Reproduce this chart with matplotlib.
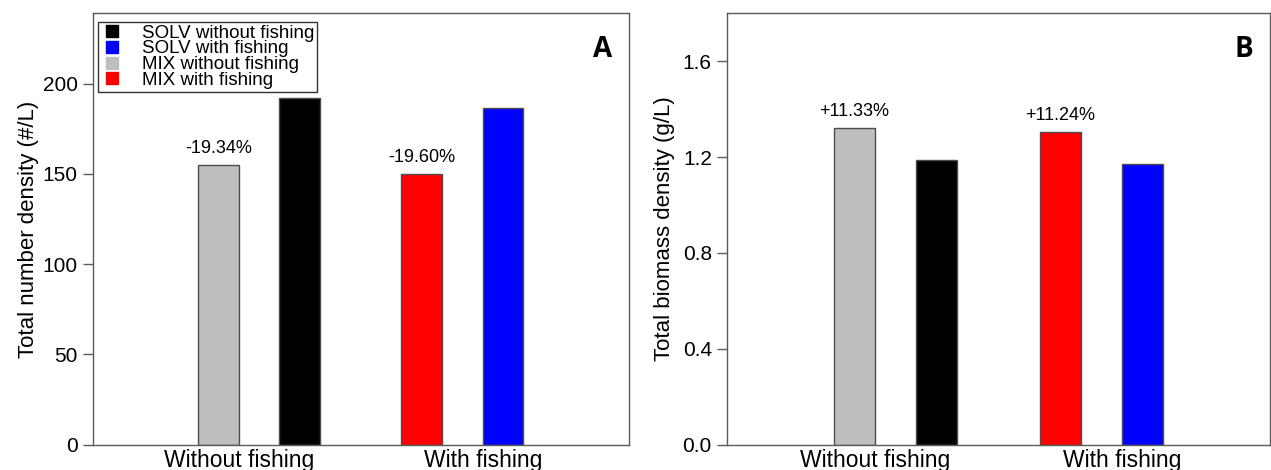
import matplotlib.pyplot as plt
from matplotlib.lines import Line2D

# Data
groups = ['Without fishing', 'With fishing']
mix_number = [155.0, 150.0]      # MIX, #/L
solv_number = [192.2, 186.6]     # SOLV, #/L
mix_biomass = [1.322, 1.303]     # MIX, g/L
solv_biomass = [1.187, 1.171]    # SOLV, g/L
number_change = ['-19.34%', '-19.60%']
biomass_change = ['+11.33%', '+11.24%']

legend_labels = ['SOLV without fishing', 'SOLV with fishing',
                 'MIX without fishing', 'MIX with fishing']

# colours per group: (MIX, SOLV)
mix_colors = ['#bebebe', '#ff0000']
solv_colors = ['#000000', '#0000ff']
legend_colors = ['#000000', '#0000ff', '#bebebe', '#ff0000']

plt.rcParams['font.family'] = ['Liberation Sans', 'DejaVu Sans']

mix_pos = [3.1, 8.1]
solv_pos = [5.1, 10.1]
label_pos = [3.6, 9.6]
edge = '#4d4d4d'
spine_col = '#5a5a5a'

fig = plt.figure(figsize=(12.71, 4.70), dpi=100)
axA = fig.add_axes([0.0728, 0.0538, 0.4221, 0.9179])
axB = fig.add_axes([0.5718, 0.0538, 0.4275, 0.9179])


def draw_panel(ax, mix, solv, changes, ylim, yticks, ylabel, letter, fmt):
    ax.bar(mix_pos, mix, width=1.0, color=mix_colors, edgecolor=edge, linewidth=1)
    ax.bar(solv_pos, solv, width=1.0, color=solv_colors, edgecolor=edge, linewidth=1)
    for x, v, t in zip(mix_pos, mix, changes):
        ax.annotate(t, (x, v), xytext=(0, 8.6), textcoords='offset points',
                    ha='center', va='baseline', fontsize=13)
    ax.set_xlim(0, 13.2)
    ax.set_ylim(*ylim)
    ax.set_yticks(yticks)
    ax.set_yticklabels([fmt.format(t) for t in yticks])
    ax.set_xticks(label_pos)
    ax.set_xticklabels(groups)
    ax.tick_params(axis='x', length=0, pad=3, labelsize=16.5)
    ax.tick_params(axis='y', length=7.2, width=1, pad=3.6, labelsize=15,
                   color=spine_col, direction='out')
    for s in ax.spines.values():
        s.set_color(spine_col)
        s.set_linewidth(1)
    ax.set_ylabel(ylabel, fontsize=16)
    ax.text(0.969, 0.899, letter, transform=ax.transAxes, ha='right',
            va='baseline', fontsize=20, fontweight='bold', family='Open Sans')


draw_panel(axA, mix_number, solv_number, number_change, (0, 239),
           [0, 50, 100, 150, 200], 'Total number density (#/L)', 'A', '{:g}')
draw_panel(axB, mix_biomass, solv_biomass, biomass_change, (0, 1.8),
           [0.0, 0.4, 0.8, 1.2, 1.6], 'Total biomass density (g/L)', 'B', '{:.1f}')

axA.yaxis.set_label_coords(-0.1, 0.5)
axB.yaxis.set_label_coords(-0.095, 0.5)

handles = [Line2D([], [], marker='s', linestyle='none', markersize=8,
                  markerfacecolor=c, markeredgecolor=c) for c in legend_colors]
leg = axA.legend(handles, legend_labels, loc='upper left',
                 bbox_to_anchor=(0.0097, 0.98), fontsize=13.5, frameon=True,
                 fancybox=False, edgecolor='#333333', framealpha=1,
                 labelspacing=-0.08, handlelength=1.2, handletextpad=1.0,
                 borderpad=0.15, borderaxespad=0)
leg.get_frame().set_linewidth(1)

fig.savefig('out.png', dpi=100)
